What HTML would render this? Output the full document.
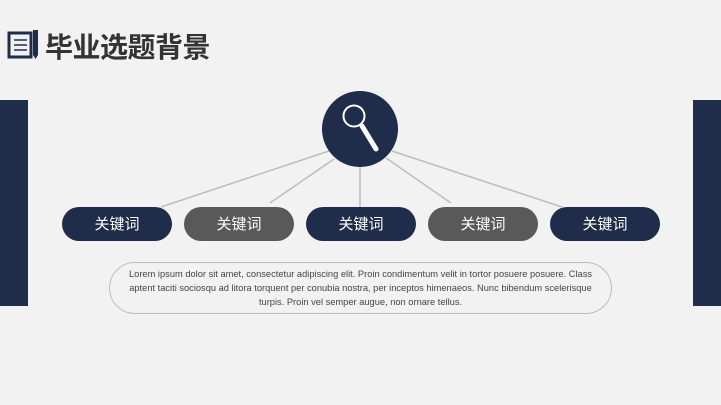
<!DOCTYPE html>
<html><head><meta charset="utf-8"><style>
html,body{margin:0;padding:0;}
body{width:721px;height:405px;background:#f2f2f2;position:relative;overflow:hidden;font-family:"Liberation Sans","Noto Sans CJK SC",sans-serif;}
.bar{position:absolute;top:100px;height:206px;width:28px;background:#1f2d4a;}
.box{position:absolute;top:207px;height:34px;width:110px;border-radius:17px;color:#fff;font-size:15px;line-height:36px;text-align:center;}
.d{background:#1f2d4a}.g{background:#595959}
.txt{position:absolute;left:109px;top:262px;width:503px;height:52px;border:1.5px solid #bdbdbd;border-radius:26px;box-sizing:border-box;font-size:9.3px;color:#444;text-align:center;line-height:14px;padding-top:4px;white-space:nowrap;}
.title{position:absolute;left:45px;top:26px;font-size:28px;font-weight:bold;color:#333;letter-spacing:-0.5px;}
</style></head><body>
<div class="bar" style="left:0"></div>
<div class="bar" style="left:693px"></div>
<svg width="721" height="405" style="position:absolute;left:0;top:0">
<g stroke="#bdbdbd" stroke-width="1.5">
<line x1="329" y1="151" x2="161" y2="207"/>
<line x1="334" y1="159" x2="270" y2="203"/>
<line x1="360" y1="167" x2="360" y2="207"/>
<line x1="386" y1="158" x2="451" y2="203"/>
<line x1="392" y1="151" x2="562" y2="207"/>
</g>
<circle cx="360" cy="129" r="38" fill="#1f2d4a"/>
<circle cx="354" cy="116" r="10.5" fill="none" stroke="#fff" stroke-width="2"/>
<line x1="362" y1="126" x2="376" y2="149" stroke="#fff" stroke-width="5" stroke-linecap="round"/>
<rect x="9" y="33" width="22" height="24" fill="none" stroke="#1f2d4a" stroke-width="3"/>
<g stroke="#1f2d4a" stroke-width="1.5"><line x1="14" y1="40" x2="27" y2="40"/><line x1="14" y1="45" x2="27" y2="45"/><line x1="14" y1="50" x2="27" y2="50"/></g>
<polygon points="33,30 38,30 38,55 35.5,59 33,55" fill="#1f2d4a"/>
</svg>
<div class="title">毕业选题背景</div>
<div class="box d" style="left:62px">关键词</div>
<div class="box g" style="left:184px">关键词</div>
<div class="box d" style="left:306px">关键词</div>
<div class="box g" style="left:428px">关键词</div>
<div class="box d" style="left:550px">关键词</div>
<div class="txt">Lorem ipsum dolor sit amet, consectetur adipiscing elit. Proin condimentum velit in tortor posuere posuere. Class<br>aptent taciti sociosqu ad litora torquent per conubia nostra, per inceptos himenaeos. Nunc bibendum scelerisque<br>turpis. Proin vel semper augue, non ornare tellus.</div>
</body></html>
